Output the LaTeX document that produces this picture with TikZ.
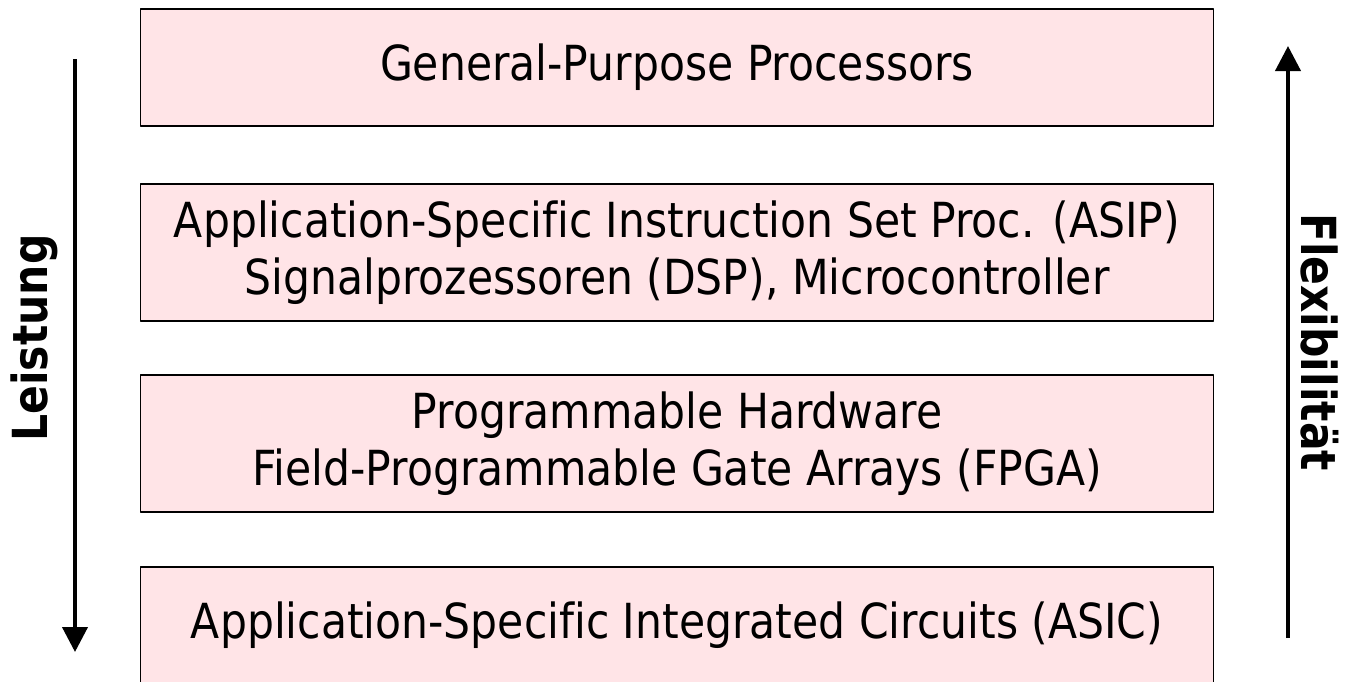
\documentclass[tikz,border=0pt]{standalone}
\usepackage{fontspec}
\setmainfont{DejaVu Sans}[FakeStretch=0.88, Ligatures=NoCommon]
\usetikzlibrary{arrows.meta}
\definecolor{boxpink}{RGB}{255,228,231}
\begin{document}
\begin{tikzpicture}[x=0.02cm, y=-0.02cm, line join=round,
		font=\fontsize{27.5}{32.4}\selectfont,
		layer/.style={draw=black, line width=1pt, fill=boxpink, inner sep=0pt,
			minimum width=21.46cm, align=center},
		axis/.style={line width=2.3pt, -{Triangle[length=0.5cm, width=0.5cm]}},
		axislabel/.style={font=\fontsize{27.5}{32.4}\selectfont\bfseries}]
	\useasboundingbox (0,0) rectangle (1350,681);
	\def\xm{677} % Mitte der Kaesten
	% Kaesten
	\node[layer, minimum height=2.34cm] (gpp) at (\xm,67.5) {General-Purpose Processors};
	\node[layer, minimum height=2.74cm] (asip) at (\xm,252.5) {Application-Specific Instruction Set Proc. (ASIP)\\Signalprozessoren (DSP), Microcontroller};
	\node[layer, minimum height=2.74cm] (fpga) at (\xm,443.5) {Programmable Hardware\\Field-Programmable Gate Arrays (FPGA)};
	\node[layer, minimum height=2.34cm] (asic) at (\xm,625.5) {Application-Specific Integrated Circuits (ASIC)};
	% Pfeile
	\coordinate (lo) at (75,59); \coordinate (lu) at (75,652);
	\coordinate (ru) at (1288,638); \coordinate (ro) at (1288,46);
	\draw[axis] (lo) -- (lu);
	\draw[axis] (ru) -- (ro);
	\node[axislabel, rotate=90] (leistung) at (34,338) {Leistung};
	\node[axislabel, rotate=-90] (flex) at (1320,342) {Flexibilität};
\end{tikzpicture}
\end{document}
